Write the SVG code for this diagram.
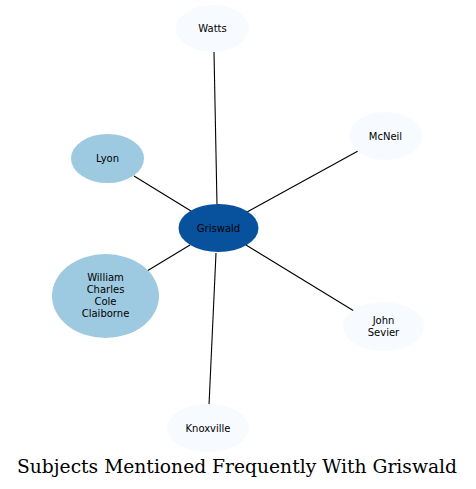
<svg xmlns="http://www.w3.org/2000/svg" width="476" height="489" viewBox="0 0 476 489">
<style>
.n text{font-family:"DejaVu Sans",sans-serif;font-size:10px;text-anchor:middle;fill:#000}
.light{fill:#f7fbff;stroke:none}
.mid{fill:#9ecae1;stroke:none}
.dark{fill:#08519c;stroke:none}
#edges line{stroke:#000;stroke-width:1.1}
.title{font-family:"DejaVu Serif",serif;font-size:18.7px;text-anchor:middle;fill:#000}
</style>
<rect width="476" height="489" fill="#fff"/>
<g id="edges">
<line x1="214" y1="52" x2="217" y2="205"/>
<line x1="358" y1="151" x2="247" y2="212"/>
<line x1="134" y1="176" x2="191" y2="211"/>
<line x1="147" y1="271" x2="190" y2="245"/>
<line x1="354" y1="311" x2="246" y2="245"/>
<line x1="209" y1="405" x2="216" y2="253"/>
</g>
<g id="griswald" class="n"><ellipse class="dark" cx="218.5" cy="228" rx="40" ry="24"/><text x="218.5" y="231.5">Griswald</text></g>
<g id="watts" class="n"><ellipse class="light" cx="212.5" cy="28.5" rx="36.5" ry="23.5"/><text x="212.5" y="32">Watts</text></g>
<g id="lyon" class="n"><ellipse class="mid" cx="107.5" cy="158.5" rx="36.5" ry="24.5"/><text x="107.5" y="162">Lyon</text></g>
<g id="mcneil" class="n"><ellipse class="light" cx="385.5" cy="136" rx="36.5" ry="24"/><text x="385.5" y="139.5">McNeil</text></g>
<g id="william" class="n"><ellipse class="mid" cx="105.5" cy="296" rx="53.5" ry="42"/><text x="105.5" y="281">William</text><text x="105.5" y="293">Charles</text><text x="105.5" y="305">Cole</text><text x="105.5" y="317">Claiborne</text></g>
<g id="johnsevier" class="n"><ellipse class="light" cx="383.5" cy="326.5" rx="40.5" ry="24.5"/><text x="383.5" y="324">John</text><text x="383.5" y="336">Sevier</text></g>
<g id="knoxville" class="n"><ellipse class="light" cx="208" cy="428" rx="41" ry="24"/><text x="208" y="431.5">Knoxville</text></g>
<text class="title" x="237" y="473">Subjects Mentioned Frequently With Griswald</text>
</svg>
